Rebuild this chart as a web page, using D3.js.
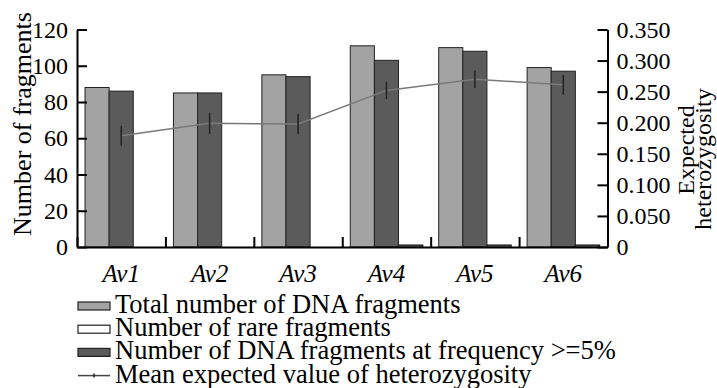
<!DOCTYPE html>
<html>
<head>
<meta charset="utf-8">
<script src="https://cdn.jsdelivr.net/npm/d3@7"></script>
<style>
  body { margin: 0; background: #fff; }
  svg text { font-family: "Liberation Serif", "Times New Roman", serif; fill: #000; }
</style>
</head>
<body>
<script>
// Data points
var categories = ["Av1", "Av2", "Av3", "Av4", "Av5", "Av6"];
var totalFragments = [88, 85, 95, 111, 110, 99];
var freqFragments = [86, 85, 94, 103, 108, 97];
var rareFragments = [0, 0, 0, 1, 1, 1];
var heterozygosity = [0.179, 0.199, 0.198, 0.252, 0.270, 0.261];
var heteroError = [0.016, 0.017, 0.016, 0.014, 0.014, 0.016];
var leftTicks = [0, 20, 40, 60, 80, 100, 120];
var rightTicks = [0, 0.05, 0.1, 0.15, 0.2, 0.25, 0.3, 0.35];
var legendLabels = ["Total number of DNA fragments", "Number of rare fragments",
    "Number of DNA fragments at frequency >=5%", "Mean expected value of heterozygosity"];

var W = 717, H = 388;
var x0 = 77, x1 = 607.5, yTop = 29.5, yBot = 247;

var svg = d3.select("body").append("svg")
    .attr("width", W)
    .attr("height", H);

// Scales
var xScale = d3.scaleBand()
    .domain(categories)
    .range([x0, x1]);

var xInner = d3.scaleBand()
    .domain(["total", "freq", "rare"])
    .range([0, xScale.bandwidth()])
    .paddingOuter(0.333);

var yLeft = d3.scaleLinear().domain([0, 120]).range([yBot, yTop]);
var yRight = d3.scaleLinear().domain([0, 0.35]).range([yBot, yTop]);

var colors = {total: "#a3a3a3", freq: "#5b5b5b", rare: "#ffffff"};
var series = [
    {key: "total", values: totalFragments},
    {key: "freq", values: freqFragments},
    {key: "rare", values: rareFragments}
];

// Bars
var groups = svg.selectAll(".grp")
    .data(categories)
    .enter()
    .append("g")
    .attr("transform", d => `translate(${xScale(d)},0)`);

groups.selectAll("rect")
    .data((c, i) => series.map(s => ({key: s.key, v: s.values[i]})))
    .enter()
    .append("rect")
    .attr("x", d => xInner(d.key))
    .attr("y", d => yLeft(d.v))
    .attr("width", xInner.bandwidth())
    .attr("height", d => yBot - yLeft(d.v))
    .attr("fill", d => colors[d.key])
    .attr("stroke", "#222")
    .attr("stroke-width", d => d.key === "rare" ? 1.5 : 1);

// Heterozygosity line
var line = d3.line()
    .x((d, i) => xScale(categories[i]) + xScale.bandwidth() / 2)
    .y(d => yRight(d));

svg.append("path")
    .datum(heterozygosity)
    .attr("d", line)
    .attr("fill", "none")
    .attr("stroke", "#7a7a7a")
    .attr("stroke-width", 1.5);

svg.selectAll(".err")
    .data(heterozygosity)
    .enter()
    .append("line")
    .attr("x1", (d, i) => xScale(categories[i]) + xScale.bandwidth() / 2)
    .attr("x2", (d, i) => xScale(categories[i]) + xScale.bandwidth() / 2)
    .attr("y1", (d, i) => yRight(d - heteroError[i]))
    .attr("y2", (d, i) => yRight(d + heteroError[i]))
    .attr("stroke", "#222")
    .attr("stroke-width", 1.5);

// Axes
var leftAxis = d3.axisLeft(yLeft).tickValues(leftTicks).tickSizeInner(-10).tickSizeOuter(0).tickPadding(9);
var gl = svg.append("g").attr("transform", `translate(${x0},0)`).call(leftAxis);

var rightAxis = d3.axisRight(yRight).tickValues(rightTicks).tickSizeInner(-10).tickSizeOuter(0).tickPadding(9)
    .tickFormat(d => d === 0 ? "0" : d3.format(".3f")(d));
var gr = svg.append("g").attr("transform", `translate(${x1},0)`).call(rightAxis);

var bottomAxis = d3.axisBottom(d3.scaleLinear().domain([0, 6]).range([x0, x1]))
    .ticks(6).tickSizeInner(-10).tickSizeOuter(0).tickFormat("");
var gb = svg.append("g").attr("transform", `translate(0,${yBot})`).call(bottomAxis);

[gl, gr, gb].forEach(g => {
    g.selectAll("path, line").attr("stroke", "#000").attr("stroke-width", 2);
    g.selectAll("text").style("font-size", "24px").attr("fill", "#000");
});

// Category labels
svg.selectAll(".cat")
    .data(categories)
    .enter()
    .append("text")
    .attr("x", d => xScale(d) + xScale.bandwidth() / 2)
    .attr("y", 282)
    .attr("text-anchor", "middle")
    .style("font-size", "25px")
    .style("font-style", "italic")
    .text(d => d);

// Axis titles
svg.append("text")
    .attr("transform", "translate(31,124) rotate(-90)")
    .attr("text-anchor", "middle")
    .style("font-size", "26px")
    .text("Number of fragments");

svg.append("text")
    .attr("transform", "translate(694,150) rotate(-90)")
    .attr("text-anchor", "middle")
    .style("font-size", "24px")
    .text("Expected");
svg.append("text")
    .attr("transform", "translate(711,159) rotate(-90)")
    .attr("text-anchor", "middle")
    .style("font-size", "24px")
    .text("heterozygosity");

// Legend
var legend = svg.selectAll(".leg")
    .data(legendLabels)
    .enter()
    .append("g")
    .attr("transform", (d, i) => `translate(78,${313 + i * 23.2})`);

legend.each(function(d, i) {
    var g = d3.select(this);
    if (i < 3) {
        var key = ["total", "rare", "freq"][i];
        g.append("rect")
            .attr("x", 0).attr("y", -11)
            .attr("width", 32).attr("height", 8)
            .attr("fill", colors[key])
            .attr("stroke", "#222")
            .attr("stroke-width", 1.2);
    } else {
        g.append("line")
            .attr("x1", 0).attr("x2", 32).attr("y1", -7).attr("y2", -7)
            .attr("stroke", "#444").attr("stroke-width", 1.5);
        g.append("line")
            .attr("x1", 16).attr("x2", 16).attr("y1", -9).attr("y2", -5)
            .attr("stroke", "#222").attr("stroke-width", 1.5);
    }
    g.append("text")
        .attr("x", 37)
        .attr("y", 0)
        .style("font-size", "26.5px")
        .text(d);
});
</script>
</body>
</html>
